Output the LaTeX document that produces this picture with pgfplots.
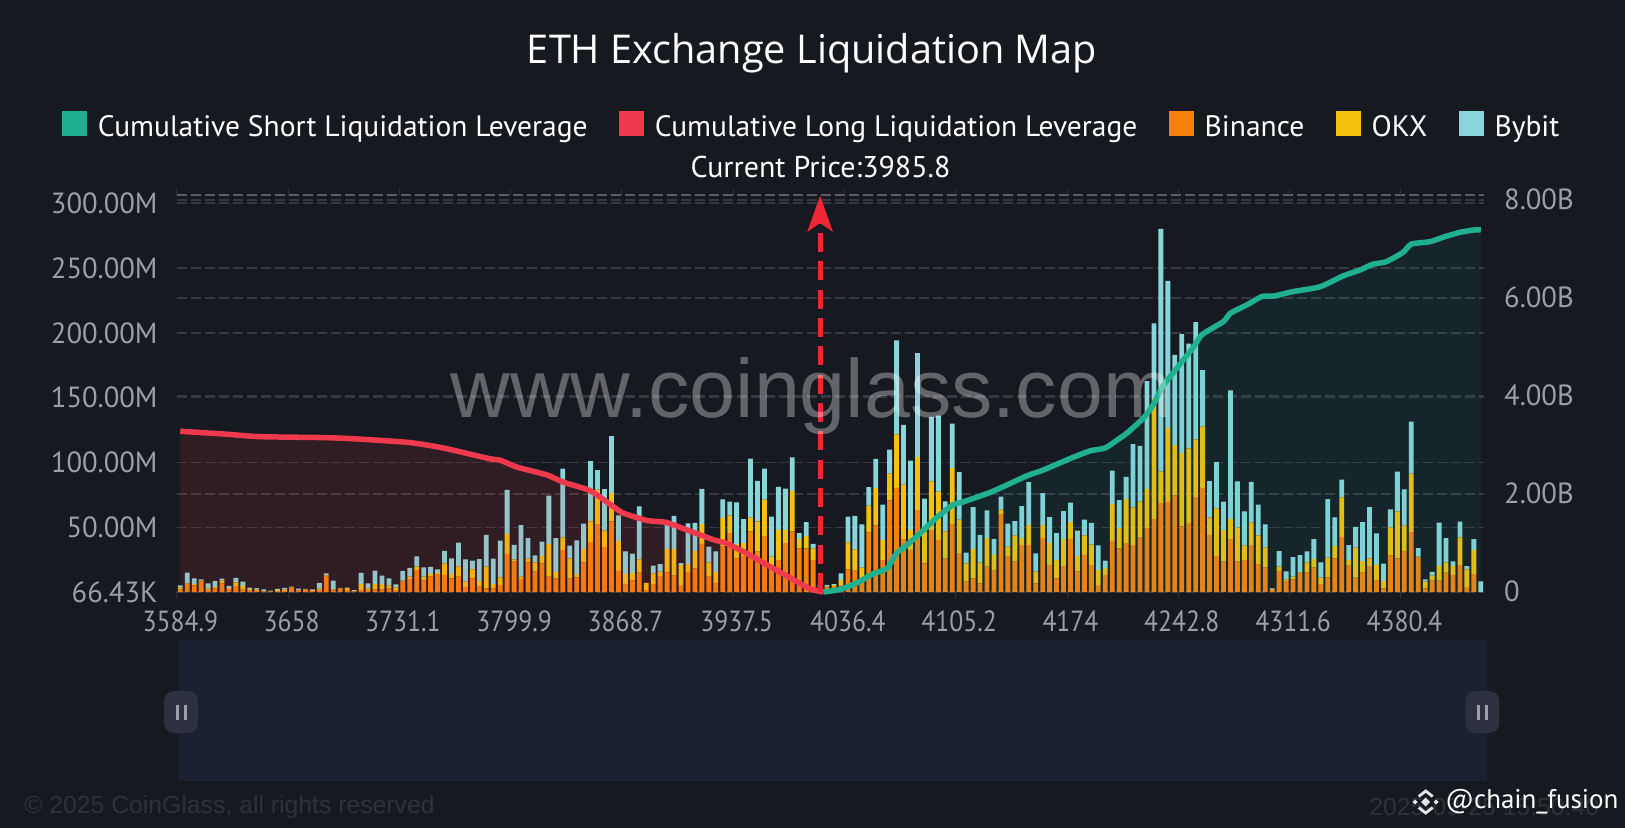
\documentclass[border=0pt]{standalone}
\usepackage{fontspec}
\usepackage{pgfplots}
\usepackage{pgfplotstable}
\pgfplotsset{compat=1.18}
\usetikzlibrary{arrows.meta}
\setmainfont{PT Sans}
\newfontfamily\titlefont{Open Sans}
\newfontfamily\wmfont{Liberation Sans}
\newfontfamily\xtickfont[FakeStretch=0.88]{PT Sans}
\newfontfamily\ytickfont[FakeStretch=0.98]{PT Sans}

\definecolor{bg}{HTML}{16191F}
\definecolor{shortc}{HTML}{20B08F}
\definecolor{shortarea}{HTML}{20A0A0}
\definecolor{longc}{HTML}{EF3A4D}
\definecolor{binance}{HTML}{F6820C}
\definecolor{okx}{HTML}{F4C20D}
\definecolor{bybit}{HTML}{88D6DA}
\definecolor{gridc}{HTML}{36393F}
\definecolor{gridtop}{HTML}{5A5D63}
\definecolor{tickc}{HTML}{9C9FA5}
\definecolor{slider}{HTML}{1A2133}
\definecolor{handle}{HTML}{2D3040}
\definecolor{faint}{HTML}{2E3138}
\definecolor{arrowc}{HTML}{EE2737}

% bars, in millions, per price bin
\pgfplotstableread{
i b o y
0 2.1 1.5 1.5
1 6.2 0.5 8.3
2 5.2 1.0 4.4
3 8.0 1.0 0.8
4 1.5 1.3 3.9
5 2.8 1.3 4.6
6 6.7 2.1 1.5
7 2.3 1.0 1.5
8 4.6 2.8 3.6
9 2.3 2.3 3.4
10 1.5 1.0 1.0
11 1.0 1.0 1.0
12 0.5 0.5 1.0
13 0.3 0.3 0.5
14 0.8 0.8 0.8
15 1.0 1.0 1.3
16 3.4 0.5 0.3
17 1.3 0.5 0.8
18 1.8 0.3 0.3
19 1.0 0.5 0.5
20 1.5 1.3 4.4
21 12.4 0.5 1.5
22 1.3 0.8 6.7
23 2.6 0.3 0.3
24 1.5 1.5 0.5
25 0.5 0.5 0.5
26 1.5 4.6 8.8
27 1.5 1.3 3.9
28 2.1 4.1 10.3
29 2.1 4.1 6.5
30 2.8 2.1 5.7
31 1.5 2.1 2.3
32 8.0 0.8 7.5
33 10.1 1.8 6.7
34 17.0 2.6 8.0
35 8.8 3.1 7.2
36 11.9 2.1 5.4
37 13.9 1.0 2.6
38 13.2 9.0 9.6
39 10.6 3.4 12.1
40 11.9 7.7 18.6
41 4.1 3.9 17.3
42 10.6 7.0 6.7
43 4.6 3.9 17.0
44 2.8 16.8 24.5
45 2.8 3.4 19.6
46 5.4 5.9 28.4
47 29.2 15.8 33.8
48 23.5 1.8 11.1
49 10.1 1.8 39.7
50 23.0 2.8 15.8
51 15.8 7.2 5.4
52 22.2 5.7 11.1
53 11.9 25.3 37.2
54 10.6 4.9 26.1
55 32.5 9.8 53.0
56 10.6 15.5 9.8
57 11.4 2.6 25.8
58 23.0 10.3 19.6
59 38.5 16.0 46.5
60 52.4 26.6 15.0
61 34.6 12.9 32.0
62 54.5 21.9 43.9
63 16.3 23.2 19.6
64 6.2 7.7 17.6
65 9.0 5.9 14.8
66 15.0 10.3 40.8
67 1.5 5.7 0
68 6.2 8.3 5.9
69 12.4 3.4 5.7
70 15.2 18.1 19.4
71 12.7 20.7 25.3
72 5.4 15.5 1.5
73 15.5 6.2 31.3
74 18.3 13.4 21.7
75 37.2 15.5 26.9
76 11.9 10.8 12.4
77 7.2 8.3 16.0
78 35.1 22.2 14.2
79 45.5 13.7 10.6
80 26.1 11.1 32.0
81 27.9 9.8 18.6
82 46.8 10.6 45.5
83 31.3 23.2 31.3
84 43.4 27.9 24.0
85 19.6 7.7 31.0
86 24.8 23.2 33.1
87 37.7 10.3 31.8
88 46.8 31.0 26.1
89 33.8 7.0 4.6
90 33.8 9.6 10.6
91 24.8 9.0 3.4
92 2.8 1.3 1.3
93 3.4 0.8 1.3
94 4.6 0.8 0.8
95 5.4 3.9 5.2
96 17.6 20.7 19.9
97 16.5 16.5 25.8
98 10.6 8.3 33.3
99 46.0 20.7 14.2
100 51.4 28.7 22.7
101 24.8 15.5 27.1
102 70.8 20.7 18.3
103 80.3 41.3 72.6
104 41.1 41.8 46.0
105 32.5 15.5 53.5
106 63.5 40.8 80.0
107 22.2 27.1 22.7
108 48.0 37.2 49.9
109 40.3 37.2 58.6
110 26.1 20.7 23.2
111 52.7 42.9 34.4
112 30.0 25.8 36.7
113 8.0 14.2 8.3
114 10.6 22.5 32.5
115 6.7 16.3 21.2
116 19.6 22.0 21.4
117 16.5 12.1 12.4
118 60.2 3.4 10.1
119 27.4 7.7 17.8
120 23.5 20.1 11.1
121 36.4 5.2 24.8
122 36.4 15.2 33.3
123 6.7 9.0 14.2
124 41.6 10.3 24.5
125 20.9 16.8 20.1
126 10.6 14.2 20.7
127 20.1 21.0 21.4
128 41.1 12.9 15.0
129 15.8 12.1 19.6
130 28.7 15.0 12.1
131 20.9 16.0 16.5
132 5.4 11.6 19.1
133 13.2 5.2 5.9
134 39.5 28.4 25.8
135 33.8 15.5 21.7
136 37.7 34.1 17.0
137 36.4 28.9 48.8
138 42.1 27.6 43.1
139 49.3 30.2 83.2
140 56.3 92.5 58.4
141 68.7 24.5 187.0
142 69.5 57.1 113.4
143 74.4 39.0 69.5
144 50.6 56.6 92.0
145 53.2 57.6 80.8
146 73.4 44.4 90.4
147 80.3 47.3 43.7
148 44.2 13.4 27.9
149 27.9 36.4 35.9
150 23.5 24.5 21.7
151 40.8 15.5 99.2
152 23.5 26.3 35.6
153 24.8 11.1 26.3
154 36.4 17.3 31.3
155 21.7 22.0 23.8
156 18.9 15.5 17.8
157 1.8 0.5 0.5
158 16.3 3.4 11.9
159 8.0 1.8 6.2
160 9.8 2.1 15.0
161 14.7 0.5 13.4
162 15.2 7.7 8.5
163 18.9 6.7 15.2
164 6.2 4.9 11.9
165 11.4 15.2 45.2
166 26.1 9.3 22.2
167 42.6 30.5 13.7
168 20.4 4.4 11.4
169 11.1 23.2 16.0
170 15.0 8.8 30.2
171 20.1 5.9 39.5
172 8.8 12.1 24.3
173 2.8 5.9 13.2
174 28.2 21.7 13.9
175 26.1 36.2 30.7
176 31.8 19.6 27.9
177 46.2 45.2 40.0
178 26.6 0.8 6.5
179 2.8 5.2 1.8
180 8.8 3.9 2.8
181 8.8 11.4 33.3
182 15.0 7.7 18.9
183 13.2 7.0 3.4
184 20.9 21.4 12.1
185 4.1 13.4 2.6
186 13.9 18.6 8.3
187 0 0 8.3
}\bars

% cumulative curves, in billions
\pgfplotstableread{
i v
0 3.28
6.7 3.22
11.5 3.17
21 3.15
25.8 3.12
33 3.05
37.8 2.94
44.5 2.72
46 2.69
48.4 2.55
52.7 2.39
55.1 2.24
58.9 2.07
62.3 1.74
63.7 1.61
67.1 1.46
69.9 1.42
72.8 1.27
76.6 1.07
78.6 0.99
81.4 0.79
85.3 0.48
90.5 0.07
92.5 0
}\longcum

\pgfplotstableread{
i v
92.5 0
94.8 0.05
97.2 0.18
99.6 0.37
101.6 0.48
103 0.79
104.4 0.95
106.4 1.20
108.7 1.51
111.1 1.78
112.6 1.84
116.4 2.03
118.8 2.18
121.7 2.37
124.1 2.49
127.9 2.72
130.8 2.88
133 2.94
135.1 3.14
136.1 3.24
138.5 3.55
139.9 3.82
141.1 4.16
142.3 4.39
145.7 5.00
146.9 5.25
150 5.52
151 5.69
153.5 5.87
155.5 6.03
157.2 6.04
160 6.13
163.9 6.23
167.2 6.45
169.6 6.57
171.5 6.69
173.4 6.74
175.8 6.93
177 7.10
179.7 7.15
181.8 7.25
184 7.34
186.1 7.39
187 7.39
}\shortcum

\pgfplotsset{
  base/.style={
    scale only axis, width=784.5pt, height=238.2pt,
    at={(106.08pt,-355.2pt)}, anchor=south west,
    xmin=-0.5, xmax=187.5,
    axis line style={draw=none},
    tick style={draw=none},
  },
  griddash/.style={draw=gridc, line width=0.9pt, dash pattern=on 6pt off 2.4pt},
}

\begin{document}
\begin{tikzpicture}[x=0.6pt,y=-0.6pt]
\useasboundingbox (0,0) rectangle (1625,828);
\fill[bg] (0,0) rectangle (1625,828);

% slider
\fill[slider] (178.3,639.5) rectangle (1486.7,780.7);
\foreach \hx in {181,1482.3} {
  \fill[handle, rounded corners=6pt] (\hx-17,691) rectangle (\hx+17,733);
  \fill[tickc] (\hx-5.5,704.5) rectangle (\hx-2.5,720);
  \fill[tickc] (\hx+2.5,704.5) rectangle (\hx+5.5,720);
}

% right scale and its grid
\begin{axis}[base,
  ymin=0, ymax=8.102,
  xtick=\empty,
  ytick={0,2,4,6,8},
  yticklabels={0,2.00B,4.00B,6.00B,8.00B},
  yticklabel pos=right,
  ytick pos=right,
  y tick label style={text=tickc, font=\fontsize{17.5}{18}\ytickfont, anchor=west, xshift=8.4pt, yshift=0.5pt},
  ymajorgrids,
  grid style={griddash},
  extra y ticks={8.102},
  extra y tick labels={},
  extra y tick style={grid style={draw=gridtop, line width=1pt, dash pattern=on 6pt off 2.4pt}},
]
\end{axis}

% bars on the left scale
\begin{axis}[base,
  ybar stacked,
  bar width=2.9pt,
  ymin=0.0664, ymax=306.3,
  xtick={0,16,...,176},
  xticklabels={3584.9,3658,3731.1,3799.9,3868.7,3937.5,4036.4,4105.2,4174,4242.8,4311.6,4380.4},
  minor xtick={-0.5,15.5,...,176},
  minor tick length=3.6pt,
  minor tick style={draw=faint, line width=0.6pt},
  xtick align=outside,
  x tick label style={text=tickc, font=\fontsize{17.5}{18}\xtickfont, yshift=-3.4pt},
  ytick={0.0664,50,100,150,200,250,300},
  yticklabels={66.43K,50.00M,100.00M,150.00M,200.00M,250.00M,300.00M},
  ytick pos=left,
  y tick label style={text=tickc, font=\fontsize{17.5}{18}\ytickfont, xshift=-8pt},
  ymajorgrids,
  grid style={griddash},
  clip=false,
]
\addplot [fill=binance, draw=none, bar shift=0pt] table [x=i, y=b] {\bars};
\addplot [fill=okx, draw=none, bar shift=0pt] table [x=i, y=o] {\bars};
\addplot [fill=bybit, draw=none, bar shift=0pt] table [x=i, y=y] {\bars};
\end{axis}

% cumulative curves, arrow and legend
\begin{axis}[base,
  hide axis,
  ymin=0, ymax=8.102,
  clip=false,
  legend columns=5,
  legend cell align=left,
  legend image code/.code={\fill[#1] (0pt,-5pt) rectangle (14.4pt,9.4pt); \path (19pt,0pt);},
  legend style={
    at={(0.4862,1.1715)}, anchor=center, draw=none, fill=none,
    text=white, font=\fontsize{17.7}{20}\selectfont,
    /tikz/every even column/.append style={column sep=17pt},
    /tikz/every odd column/.append style={column sep=0pt},
  },
]
\addlegendimage{shortc}
\addlegendentry{Cumulative Short Liquidation Leverage}
\addlegendimage{longc}
\addlegendentry{Cumulative Long Liquidation Leverage}
\addlegendimage{binance}
\addlegendentry{Binance}
\addlegendimage{okx}
\addlegendentry{OKX}
\addlegendimage{bybit}
\addlegendentry{Bybit}
\addplot [forget plot, draw=none, fill=longc, fill opacity=0.12] table [x=i, y=v] {\longcum} \closedcycle;
\addplot [forget plot, draw=none, fill=shortarea, fill opacity=0.09] table [x=i, y=v] {\shortcum} \closedcycle;
\addplot [forget plot, longc, line width=3.3pt, line join=round, smooth, tension=0.35] table [x=i, y=v] {\longcum};
\addplot [forget plot, shortc, line width=3.3pt, line join=round, smooth, tension=0.35] table [x=i, y=v] {\shortcum};
\addplot [forget plot, arrowc, line width=3pt, dash pattern=on 11.5pt off 5.5pt,
  -{Stealth[length=21.5pt, width=15pt, inset=5pt]}] coordinates {(92,0) (92,8.09)};
\end{axis}

% texts
\node[anchor=base, text=white, font=\fontsize{23.8}{30}\titlefont] at (812,63) {ETH Exchange Liquidation Map};
\node[anchor=center, text=white, font=\fontsize{18}{20}\selectfont] at (820.5,167) {Current Price:3985.8};
\node[anchor=base, text=white, opacity=0.33, font=\fontsize{49.6}{50}\wmfont] at (811.5,417) {www.coinglass.com};
\node[anchor=west, inner sep=0pt, text=faint, font=\fontsize{14.85}{16}\wmfont] at (24,806.7) {© 2025 CoinGlass, all rights reserved};
\node[anchor=west, inner sep=0pt, text=faint, font=\fontsize{14.85}{16}\wmfont] at (1369,806.7) {2025-09-25 15:50:40};

% repost mark
\begin{scope}[shift={(1425.7,802)}, white!90!black]
  \fill (0,-4.5) -- (4.5,0) -- (0,4.5) -- (-4.5,0) -- cycle;
  \fill (-10.5,-2.5) -- (-8,0) -- (-10.5,2.5) -- (-13,0) -- cycle;
  \fill (10.5,-2.5) -- (13,0) -- (10.5,2.5) -- (8,0) -- cycle;
  \draw[line width=1.7pt] (-7,-5.5) -- (0,-11) -- (7,-5.5);
  \draw[line width=1.7pt] (-7,5.5) -- (0,11) -- (7,5.5);
\end{scope}
\node[anchor=west, inner sep=0pt, text=white, font=\fontsize{16.2}{18}\selectfont] at (1445,802) {@chain\_fusion};
\end{tikzpicture}
\end{document}
